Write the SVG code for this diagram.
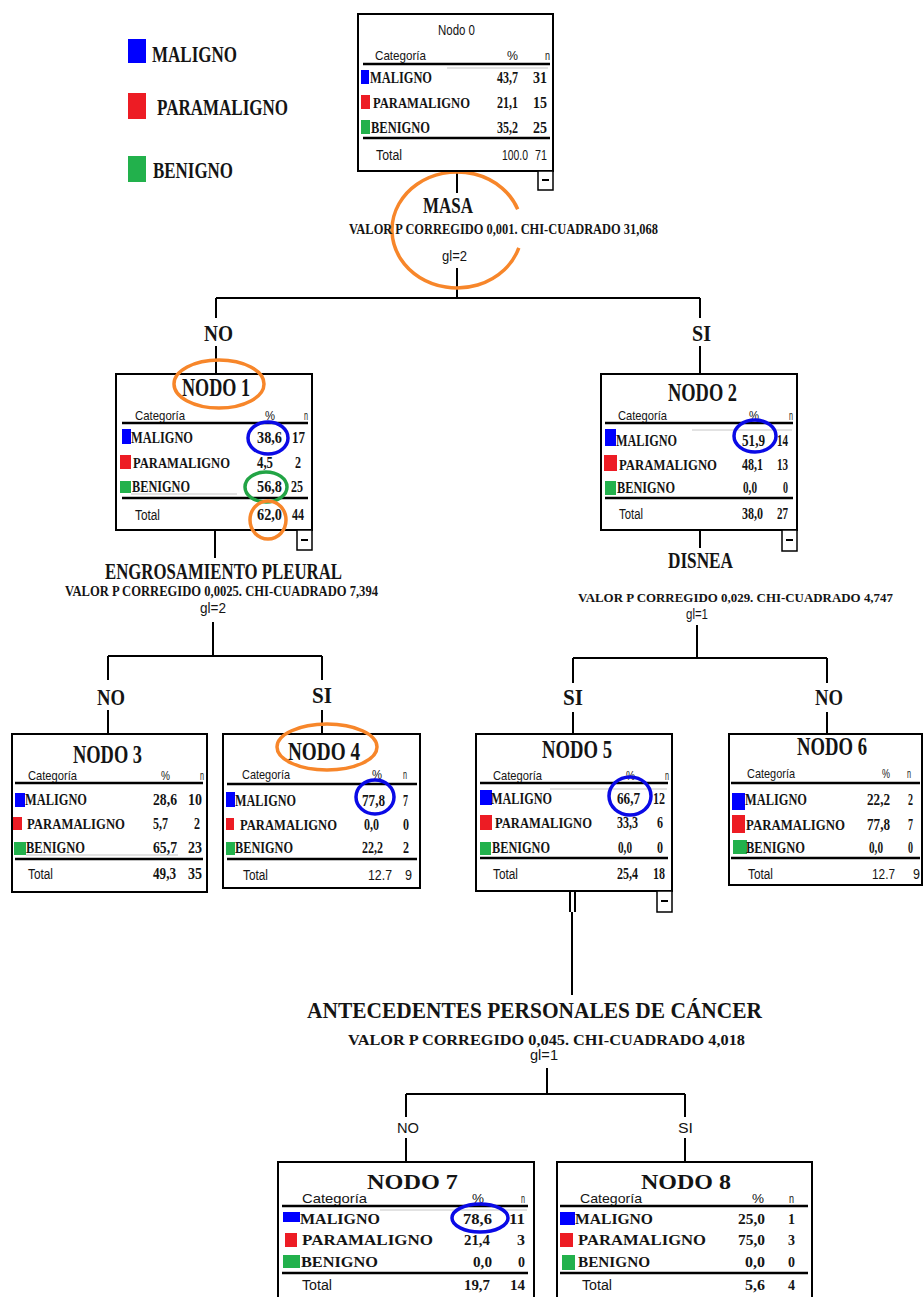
<svg xmlns="http://www.w3.org/2000/svg" width="923" height="1297" viewBox="0 0 923 1297">
<style>
.b{font-family:"Liberation Serif",serif;font-weight:bold;fill:#141414}
.s{font-family:"Liberation Sans",sans-serif;fill:#141414}
.r{font-size:17px}.r2{font-size:15px}.r7{font-size:15px}
.h{font-size:26px}.h7{font-size:21px}
.c{font-size:13px}.t{font-size:14px}
.sp{font-size:24px}.v{font-size:15px}
.lg{font-size:24px}
.ln{stroke:#000;stroke-width:2;fill:none}
.box{fill:#fff;stroke:#000;stroke-width:2}
.sep{stroke:#000;stroke-width:2.5}
.gr{stroke:#e2e2e2;stroke-width:2}
.mal{fill:#0000ff}.par{fill:#ed1c24}.ben{fill:#22b14c}
.oe{fill:none;stroke:#f7862a;stroke-width:3.5}
.be{fill:none;stroke:#0a0ae6;stroke-width:3.5}
.ge{fill:none;stroke:#22a445;stroke-width:3.5}
.mb{fill:#fff;stroke:#000;stroke-width:1.5}
</style>
<rect width="923" height="1297" fill="#fff"/>

<g id="legend">
<rect x="128" y="39" width="18" height="24" class="mal"/>
<text class="b lg" x="152" y="62" textLength="85" lengthAdjust="spacingAndGlyphs">MALIGNO</text>
<rect x="128" y="93" width="18" height="26" class="par"/>
<text class="b lg" x="157" y="115" textLength="131" lengthAdjust="spacingAndGlyphs">PARAMALIGNO</text>
<rect x="128" y="156" width="18" height="26" class="ben"/>
<text class="b lg" x="153" y="178" textLength="80" lengthAdjust="spacingAndGlyphs">BENIGNO</text>
</g>

<g id="connectors">
<path class="ln" d="M457 171V193M457 268V298M216 298H700M216 298V318M216 346V374M700 298V318M700 346V374"/>
<path class="ln" d="M215 530V558M213 622V656M108 656H322M108 656V680M108 710V734M322 656V680M322 710V734"/>
<path class="ln" d="M700 530V548M697 625V658M573 658H827M573 658V683M573 712V734M827 658V683M827 712V734"/>
<path class="ln" d="M570 891V912M575 891V912M572 912V995M547 1068V1094M406 1094H685M406 1094V1117M406 1138V1162M685 1094V1117M685 1138V1162"/>
</g>

<g id="split0">
<path class="oe" d="M518.8 247.9A65 58 0 1 1 517.7 209.2"/>
<text class="b" style="font-size:23px" x="423" y="213" textLength="50" lengthAdjust="spacingAndGlyphs">MASA</text>
<text class="b v" x="349" y="234" textLength="309" lengthAdjust="spacingAndGlyphs">VALOR P CORREGIDO 0,001. CHI-CUADRADO 31,068</text>
<text class="s t" x="442" y="261" textLength="25" lengthAdjust="spacingAndGlyphs">gl=2</text>
<text class="b sp" x="204" y="341" textLength="29" lengthAdjust="spacingAndGlyphs">NO</text>
<text class="b sp" x="692" y="341" textLength="19" lengthAdjust="spacingAndGlyphs">SI</text>
</g>

<g id="node0">
<rect x="358" y="14" width="195" height="157" class="box"/>
<text class="s t" x="438" y="35" textLength="37" lengthAdjust="spacingAndGlyphs">Nodo 0</text>
<text class="s c" x="375" y="60" textLength="51" lengthAdjust="spacingAndGlyphs">Categoría</text>
<text class="s c" x="507" y="60" textLength="11" lengthAdjust="spacingAndGlyphs">%</text>
<text class="s c" x="545" y="60" textLength="5" lengthAdjust="spacingAndGlyphs">n</text>
<line class="sep" x1="363" y1="64" x2="550" y2="64"/>
<line class="gr" x1="447" y1="68" x2="548" y2="68"/>
<rect x="361" y="70" width="8" height="14" class="mal"/>
<text class="b r" x="370" y="83" textLength="62" lengthAdjust="spacingAndGlyphs">MALIGNO</text>
<text class="b r" x="497" y="83" textLength="21" lengthAdjust="spacingAndGlyphs">43,7</text>
<text class="b r" x="533" y="83" textLength="14" lengthAdjust="spacingAndGlyphs">31</text>
<rect x="361" y="95" width="9" height="14" class="par"/>
<text class="b r2" x="373" y="108" textLength="97" lengthAdjust="spacingAndGlyphs">PARAMALIGNO</text>
<text class="b r" x="497" y="108" textLength="21" lengthAdjust="spacingAndGlyphs">21,1</text>
<text class="b r" x="533" y="108" textLength="14" lengthAdjust="spacingAndGlyphs">15</text>
<rect x="361" y="120" width="9" height="14" class="ben"/>
<text class="b r" x="371" y="133" textLength="59" lengthAdjust="spacingAndGlyphs">BENIGNO</text>
<text class="b r" x="497" y="133" textLength="21" lengthAdjust="spacingAndGlyphs">35,2</text>
<text class="b r" x="533" y="133" textLength="14" lengthAdjust="spacingAndGlyphs">25</text>
<line class="sep" x1="363" y1="138" x2="550" y2="138"/>
<text class="s t" x="376" y="160" textLength="26" lengthAdjust="spacingAndGlyphs">Total</text>
<text class="s t" x="502" y="160" textLength="26" lengthAdjust="spacingAndGlyphs">100.0</text>
<text class="s t" x="535" y="160" textLength="12" lengthAdjust="spacingAndGlyphs">71</text>
<rect x="538" y="171" width="15" height="19" class="mb"/>
<line class="ln" x1="542" y1="180" x2="549" y2="180"/>
</g>

<g id="node1">
<rect x="116" y="374" width="196" height="156" class="box"/>
<text class="b h" x="182" y="396" textLength="68" lengthAdjust="spacingAndGlyphs">NODO 1</text>
<text class="s c" x="135" y="420" textLength="50" lengthAdjust="spacingAndGlyphs">Categoría</text>
<text class="s c" x="265" y="420" textLength="10" lengthAdjust="spacingAndGlyphs">%</text>
<text class="s c" x="304" y="420" textLength="4" lengthAdjust="spacingAndGlyphs">n</text>
<line class="sep" x1="122" y1="423" x2="308" y2="423"/>
<rect x="122" y="429" width="9" height="15" class="mal"/>
<text class="b r" x="131" y="443" textLength="62" lengthAdjust="spacingAndGlyphs">MALIGNO</text>
<text class="b r" x="257" y="443" textLength="25" lengthAdjust="spacingAndGlyphs">38,6</text>
<text class="b r" x="292" y="443" textLength="13" lengthAdjust="spacingAndGlyphs">17</text>
<rect x="120" y="455" width="11" height="14" class="par"/>
<text class="b r2" x="133" y="468" textLength="97" lengthAdjust="spacingAndGlyphs">PARAMALIGNO</text>
<text class="b r" x="257" y="468" textLength="16" lengthAdjust="spacingAndGlyphs">4,5</text>
<text class="b r" x="295" y="468" textLength="6" lengthAdjust="spacingAndGlyphs">2</text>
<line class="gr" x1="131" y1="494" x2="237" y2="494"/>
<rect x="120" y="481" width="11" height="12" class="ben"/>
<text class="b r" x="132" y="492" textLength="58" lengthAdjust="spacingAndGlyphs">BENIGNO</text>
<text class="b r" x="257" y="492" textLength="25" lengthAdjust="spacingAndGlyphs">56,8</text>
<text class="b r" x="291" y="492" textLength="12" lengthAdjust="spacingAndGlyphs">25</text>
<line class="sep" x1="122" y1="498" x2="308" y2="498"/>
<text class="s t" x="135" y="520" textLength="25" lengthAdjust="spacingAndGlyphs">Total</text>
<text class="b r" x="257" y="520" textLength="25" lengthAdjust="spacingAndGlyphs">62,0</text>
<text class="b r" x="292" y="520" textLength="12" lengthAdjust="spacingAndGlyphs">44</text>
<rect x="297" y="530" width="15" height="20" class="mb"/>
<line class="ln" x1="301" y1="540" x2="308" y2="540"/>
<ellipse class="oe" cx="219" cy="384" rx="45" ry="24"/>
<ellipse class="be" cx="268" cy="438" rx="20" ry="16"/>
<ellipse class="ge" cx="266" cy="487" rx="21" ry="15"/>
<ellipse class="oe" cx="268" cy="520" rx="18" ry="19"/>
</g>

<g id="split1">
<text class="b" style="font-size:23px" x="105" y="579" textLength="237" lengthAdjust="spacingAndGlyphs">ENGROSAMIENTO PLEURAL</text>
<text class="b v" x="65" y="596" textLength="313" lengthAdjust="spacingAndGlyphs">VALOR P CORREGIDO 0,0025. CHI-CUADRADO 7,394</text>
<text class="s t" x="200" y="613" textLength="26" lengthAdjust="spacingAndGlyphs">gl=2</text>
<text class="b sp" x="97" y="705" textLength="28" lengthAdjust="spacingAndGlyphs">NO</text>
<text class="b sp" x="312" y="703" textLength="20" lengthAdjust="spacingAndGlyphs">SI</text>
</g>

<g id="node2">
<rect x="601" y="374" width="196" height="156" class="box"/>
<text class="b h" x="668" y="401" textLength="69" lengthAdjust="spacingAndGlyphs">NODO 2</text>
<text class="s c" x="618" y="420" textLength="49" lengthAdjust="spacingAndGlyphs">Categoría</text>
<text class="s c" x="749" y="420" textLength="10" lengthAdjust="spacingAndGlyphs">%</text>
<text class="s c" x="789" y="420" textLength="4" lengthAdjust="spacingAndGlyphs">n</text>
<line class="sep" x1="605" y1="423" x2="793" y2="423"/>
<line class="gr" x1="692" y1="430" x2="792" y2="430"/>
<rect x="605" y="429" width="11" height="17" class="mal"/>
<text class="b r" x="616" y="446" textLength="61" lengthAdjust="spacingAndGlyphs">MALIGNO</text>
<text class="b r" x="742" y="446" textLength="23" lengthAdjust="spacingAndGlyphs">51,9</text>
<text class="b r" x="777" y="446" textLength="11" lengthAdjust="spacingAndGlyphs">14</text>
<rect x="604" y="455" width="13" height="16" class="par"/>
<text class="b r2" x="619" y="470" textLength="98" lengthAdjust="spacingAndGlyphs">PARAMALIGNO</text>
<text class="b r" x="742" y="470" textLength="21" lengthAdjust="spacingAndGlyphs">48,1</text>
<text class="b r" x="777" y="470" textLength="11" lengthAdjust="spacingAndGlyphs">13</text>
<rect x="605" y="481" width="11" height="14" class="ben"/>
<text class="b r" x="617" y="493" textLength="58" lengthAdjust="spacingAndGlyphs">BENIGNO</text>
<text class="b r" x="743" y="493" textLength="14" lengthAdjust="spacingAndGlyphs">0,0</text>
<text class="b r" x="783" y="493" textLength="5" lengthAdjust="spacingAndGlyphs">0</text>
<line class="sep" x1="605" y1="498" x2="793" y2="498"/>
<text class="s t" x="619" y="519" textLength="24" lengthAdjust="spacingAndGlyphs">Total</text>
<text class="b r" x="742" y="519" textLength="21" lengthAdjust="spacingAndGlyphs">38,0</text>
<text class="b r" x="777" y="519" textLength="11" lengthAdjust="spacingAndGlyphs">27</text>
<rect x="782" y="530" width="15" height="21" class="mb"/>
<line class="ln" x1="786" y1="540" x2="793" y2="540"/>
<ellipse class="be" cx="755" cy="436" rx="21" ry="16"/>
</g>

<g id="split2">
<text class="b" style="font-size:23px" x="668" y="568" textLength="65" lengthAdjust="spacingAndGlyphs">DISNEA</text>
<text class="b" style="font-size:13.5px" x="578" y="602" textLength="315" lengthAdjust="spacingAndGlyphs">VALOR P CORREGIDO 0,029. CHI-CUADRADO 4,747</text>
<text class="s t" x="686" y="619" textLength="22" lengthAdjust="spacingAndGlyphs">gl=1</text>
<text class="b sp" x="563" y="705" textLength="20" lengthAdjust="spacingAndGlyphs">SI</text>
<text class="b sp" x="815" y="705" textLength="28" lengthAdjust="spacingAndGlyphs">NO</text>
</g>

<g id="node3">
<rect x="12" y="734" width="195" height="158" class="box"/>
<text class="b h" x="73" y="763" textLength="69" lengthAdjust="spacingAndGlyphs">NODO 3</text>
<text class="s c" x="28" y="780" textLength="49" lengthAdjust="spacingAndGlyphs">Categoría</text>
<text class="s c" x="161" y="780" textLength="9" lengthAdjust="spacingAndGlyphs">%</text>
<text class="s c" x="200" y="780" textLength="4" lengthAdjust="spacingAndGlyphs">n</text>
<line class="sep" x1="15" y1="783" x2="203" y2="783"/>
<rect x="15" y="793" width="10" height="14" class="mal"/>
<text class="b r" x="25" y="805" textLength="62" lengthAdjust="spacingAndGlyphs">MALIGNO</text>
<text class="b r" x="153" y="805" textLength="24" lengthAdjust="spacingAndGlyphs">28,6</text>
<text class="b r" x="188" y="805" textLength="14" lengthAdjust="spacingAndGlyphs">10</text>
<rect x="13" y="817" width="9" height="13" class="par"/>
<text class="b r2" x="27" y="829" textLength="98" lengthAdjust="spacingAndGlyphs">PARAMALIGNO</text>
<text class="b r" x="153" y="829" textLength="15" lengthAdjust="spacingAndGlyphs">5,7</text>
<text class="b r" x="194" y="829" textLength="6" lengthAdjust="spacingAndGlyphs">2</text>
<line class="gr" x1="26" y1="855" x2="178" y2="855"/>
<rect x="14" y="842" width="12" height="13" class="ben"/>
<text class="b r" x="26" y="853" textLength="59" lengthAdjust="spacingAndGlyphs">BENIGNO</text>
<text class="b r" x="153" y="853" textLength="24" lengthAdjust="spacingAndGlyphs">65,7</text>
<text class="b r" x="188" y="853" textLength="14" lengthAdjust="spacingAndGlyphs">23</text>
<line class="sep" x1="15" y1="859" x2="203" y2="859"/>
<text class="s t" x="28" y="879" textLength="25" lengthAdjust="spacingAndGlyphs">Total</text>
<text class="b r" x="153" y="879" textLength="23" lengthAdjust="spacingAndGlyphs">49,3</text>
<text class="b r" x="188" y="879" textLength="14" lengthAdjust="spacingAndGlyphs">35</text>
</g>

<g id="node4">
<rect x="223" y="734" width="197" height="154" class="box"/>
<text class="b h" x="288" y="760" textLength="72" lengthAdjust="spacingAndGlyphs">NODO 4</text>
<text class="s c" x="242" y="779" textLength="48" lengthAdjust="spacingAndGlyphs">Categoría</text>
<text class="s c" x="372" y="779" textLength="10" lengthAdjust="spacingAndGlyphs">%</text>
<text class="s c" x="403" y="779" textLength="4" lengthAdjust="spacingAndGlyphs">n</text>
<line class="sep" x1="227" y1="784" x2="417" y2="784"/>
<rect x="226" y="792" width="9" height="15" class="mal"/>
<text class="b r" x="235" y="806" textLength="61" lengthAdjust="spacingAndGlyphs">MALIGNO</text>
<text class="b r" x="362" y="806" textLength="23" lengthAdjust="spacingAndGlyphs">77,8</text>
<text class="b r" x="403" y="806" textLength="5" lengthAdjust="spacingAndGlyphs">7</text>
<rect x="226" y="818" width="8" height="12" class="par"/>
<text class="b r2" x="240" y="830" textLength="97" lengthAdjust="spacingAndGlyphs">PARAMALIGNO</text>
<text class="b r" x="364" y="830" textLength="15" lengthAdjust="spacingAndGlyphs">0,0</text>
<text class="b r" x="403" y="830" textLength="6" lengthAdjust="spacingAndGlyphs">0</text>
<rect x="226" y="842" width="9" height="13" class="ben"/>
<text class="b r" x="235" y="853" textLength="58" lengthAdjust="spacingAndGlyphs">BENIGNO</text>
<text class="b r" x="362" y="853" textLength="21" lengthAdjust="spacingAndGlyphs">22,2</text>
<text class="b r" x="403" y="853" textLength="6" lengthAdjust="spacingAndGlyphs">2</text>
<line class="sep" x1="227" y1="859" x2="417" y2="859"/>
<text class="s t" x="243" y="880" textLength="25" lengthAdjust="spacingAndGlyphs">Total</text>
<text class="s t" x="368" y="880" textLength="24" lengthAdjust="spacingAndGlyphs">12.7</text>
<text class="s t" x="405" y="880" textLength="7" lengthAdjust="spacingAndGlyphs">9</text>
<ellipse class="oe" cx="327" cy="747" rx="50" ry="23"/>
<ellipse class="be" cx="375" cy="797" rx="19" ry="17"/>
</g>

<g id="node5">
<rect x="476" y="734" width="196" height="157" class="box"/>
<text class="b h" x="542" y="758" textLength="70" lengthAdjust="spacingAndGlyphs">NODO 5</text>
<text class="s c" x="493" y="780" textLength="49" lengthAdjust="spacingAndGlyphs">Categoría</text>
<text class="s c" x="626" y="780" textLength="9" lengthAdjust="spacingAndGlyphs">%</text>
<text class="s c" x="665" y="780" textLength="4" lengthAdjust="spacingAndGlyphs">n</text>
<line class="sep" x1="480" y1="783" x2="668" y2="783"/>
<line class="gr" x1="550" y1="789" x2="667" y2="789"/>
<rect x="480" y="790" width="12" height="15" class="mal"/>
<text class="b r" x="491" y="804" textLength="61" lengthAdjust="spacingAndGlyphs">MALIGNO</text>
<text class="b r" x="617" y="804" textLength="23" lengthAdjust="spacingAndGlyphs">66,7</text>
<text class="b r" x="653" y="804" textLength="12" lengthAdjust="spacingAndGlyphs">12</text>
<rect x="480" y="815" width="12" height="15" class="par"/>
<text class="b r2" x="495" y="828" textLength="97" lengthAdjust="spacingAndGlyphs">PARAMALIGNO</text>
<text class="b r" x="617" y="828" textLength="21" lengthAdjust="spacingAndGlyphs">33,3</text>
<text class="b r" x="657" y="828" textLength="6" lengthAdjust="spacingAndGlyphs">6</text>
<rect x="480" y="842" width="11" height="13" class="ben"/>
<text class="b r" x="492" y="853" textLength="58" lengthAdjust="spacingAndGlyphs">BENIGNO</text>
<text class="b r" x="618" y="853" textLength="14" lengthAdjust="spacingAndGlyphs">0,0</text>
<text class="b r" x="657" y="853" textLength="6" lengthAdjust="spacingAndGlyphs">0</text>
<line class="sep" x1="480" y1="858" x2="668" y2="858"/>
<text class="s t" x="493" y="879" textLength="25" lengthAdjust="spacingAndGlyphs">Total</text>
<text class="b r" x="617" y="879" textLength="21" lengthAdjust="spacingAndGlyphs">25,4</text>
<text class="b r" x="653" y="879" textLength="12" lengthAdjust="spacingAndGlyphs">18</text>
<rect x="657" y="891" width="15" height="21" class="mb"/>
<line class="ln" x1="661" y1="901" x2="668" y2="901"/>
<ellipse class="be" cx="630" cy="796" rx="21" ry="19"/>
</g>

<g id="node6">
<rect x="729" y="734" width="193" height="151" class="box"/>
<text class="b h" x="797" y="755" textLength="70" lengthAdjust="spacingAndGlyphs">NODO 6</text>
<text class="s c" x="747" y="778" textLength="48" lengthAdjust="spacingAndGlyphs">Categoría</text>
<text class="s c" x="882" y="778" textLength="8" lengthAdjust="spacingAndGlyphs">%</text>
<text class="s c" x="907" y="778" textLength="4" lengthAdjust="spacingAndGlyphs">n</text>
<line class="sep" x1="731" y1="783" x2="920" y2="783"/>
<rect x="732" y="793" width="13" height="17" class="mal"/>
<text class="b r" x="745" y="805" textLength="62" lengthAdjust="spacingAndGlyphs">MALIGNO</text>
<text class="b r" x="867" y="805" textLength="23" lengthAdjust="spacingAndGlyphs">22,2</text>
<text class="b r" x="908" y="805" textLength="5" lengthAdjust="spacingAndGlyphs">2</text>
<rect x="732" y="815" width="13" height="18" class="par"/>
<text class="b r2" x="746" y="830" textLength="99" lengthAdjust="spacingAndGlyphs">PARAMALIGNO</text>
<text class="b r" x="867" y="830" textLength="23" lengthAdjust="spacingAndGlyphs">77,8</text>
<text class="b r" x="908" y="830" textLength="5" lengthAdjust="spacingAndGlyphs">7</text>
<rect x="733" y="840" width="14" height="14" class="ben"/>
<text class="b r" x="746" y="853" textLength="59" lengthAdjust="spacingAndGlyphs">BENIGNO</text>
<text class="b r" x="869" y="853" textLength="14" lengthAdjust="spacingAndGlyphs">0,0</text>
<text class="b r" x="908" y="853" textLength="5" lengthAdjust="spacingAndGlyphs">0</text>
<line class="sep" x1="731" y1="858" x2="920" y2="858"/>
<text class="s t" x="748" y="879" textLength="25" lengthAdjust="spacingAndGlyphs">Total</text>
<text class="s t" x="872" y="879" textLength="23" lengthAdjust="spacingAndGlyphs">12.7</text>
<text class="s t" x="913" y="879" textLength="7" lengthAdjust="spacingAndGlyphs">9</text>
</g>

<g id="split5">
<text class="b" style="font-size:23px" x="307" y="1018" textLength="455" lengthAdjust="spacingAndGlyphs">ANTECEDENTES PERSONALES DE CÁNCER</text>
<text class="b v" x="348" y="1045" textLength="397" lengthAdjust="spacingAndGlyphs">VALOR P CORREGIDO 0,045. CHI-CUADRADO 4,018</text>
<text class="s t" x="530" y="1060" textLength="28" lengthAdjust="spacingAndGlyphs">gl=1</text>
<text class="s t" x="397" y="1133" textLength="22" lengthAdjust="spacingAndGlyphs">NO</text>
<text class="s t" x="678" y="1133" textLength="15" lengthAdjust="spacingAndGlyphs">SI</text>
</g>

<g id="node7">
<rect x="278" y="1162" width="256" height="145" class="box"/>
<text class="b h7" x="367" y="1189" textLength="91" lengthAdjust="spacingAndGlyphs">NODO 7</text>
<text class="s c" x="302" y="1203" textLength="65" lengthAdjust="spacingAndGlyphs">Categoría</text>
<text class="s c" x="472" y="1203" textLength="12" lengthAdjust="spacingAndGlyphs">%</text>
<text class="s c" x="521" y="1203" textLength="4" lengthAdjust="spacingAndGlyphs">n</text>
<line class="sep" x1="282" y1="1206" x2="528" y2="1206"/>
<line class="gr" x1="380" y1="1210" x2="527" y2="1210"/>
<rect x="283" y="1212" width="17" height="10" class="mal"/>
<text class="b r7" x="300" y="1224" textLength="80" lengthAdjust="spacingAndGlyphs">MALIGNO</text>
<text class="b r7" x="463" y="1224" textLength="29" lengthAdjust="spacingAndGlyphs">78,6</text>
<text class="b r7" x="509" y="1224" textLength="16" lengthAdjust="spacingAndGlyphs">11</text>
<rect x="285" y="1233" width="12" height="14" class="par"/>
<text class="b r7" x="302" y="1245" textLength="131" lengthAdjust="spacingAndGlyphs">PARAMALIGNO</text>
<text class="b r7" x="464" y="1245" textLength="26" lengthAdjust="spacingAndGlyphs">21,4</text>
<text class="b r7" x="517" y="1245" textLength="8" lengthAdjust="spacingAndGlyphs">3</text>
<rect x="283" y="1255" width="17" height="13" class="ben"/>
<text class="b r7" x="301" y="1267" textLength="77" lengthAdjust="spacingAndGlyphs">BENIGNO</text>
<text class="b r7" x="473" y="1267" textLength="19" lengthAdjust="spacingAndGlyphs">0,0</text>
<text class="b r7" x="518" y="1267" textLength="7" lengthAdjust="spacingAndGlyphs">0</text>
<line class="sep" x1="282" y1="1273" x2="528" y2="1273"/>
<text class="s t" x="302" y="1290" textLength="30" lengthAdjust="spacingAndGlyphs">Total</text>
<text class="b r7" x="464" y="1290" textLength="26" lengthAdjust="spacingAndGlyphs">19,7</text>
<text class="b r7" x="510" y="1290" textLength="15" lengthAdjust="spacingAndGlyphs">14</text>
<ellipse class="be" cx="480" cy="1218" rx="28" ry="14"/>
</g>

<g id="node8">
<rect x="557" y="1162" width="255" height="145" class="box"/>
<text class="b h7" x="641" y="1189" textLength="90" lengthAdjust="spacingAndGlyphs">NODO 8</text>
<text class="s c" x="580" y="1203" textLength="62" lengthAdjust="spacingAndGlyphs">Categoría</text>
<text class="s c" x="752" y="1203" textLength="12" lengthAdjust="spacingAndGlyphs">%</text>
<text class="s c" x="789" y="1203" textLength="5" lengthAdjust="spacingAndGlyphs">n</text>
<line class="sep" x1="560" y1="1206" x2="808" y2="1206"/>
<rect x="560" y="1212" width="15" height="13" class="mal"/>
<text class="b r7" x="575" y="1224" textLength="78" lengthAdjust="spacingAndGlyphs">MALIGNO</text>
<text class="b r7" x="738" y="1224" textLength="27" lengthAdjust="spacingAndGlyphs">25,0</text>
<text class="b r7" x="788" y="1224" textLength="7" lengthAdjust="spacingAndGlyphs">1</text>
<rect x="560" y="1233" width="13" height="14" class="par"/>
<text class="b r7" x="578" y="1245" textLength="128" lengthAdjust="spacingAndGlyphs">PARAMALIGNO</text>
<text class="b r7" x="738" y="1245" textLength="27" lengthAdjust="spacingAndGlyphs">75,0</text>
<text class="b r7" x="788" y="1245" textLength="7" lengthAdjust="spacingAndGlyphs">3</text>
<rect x="562" y="1255" width="13" height="15" class="ben"/>
<text class="b r7" x="578" y="1267" textLength="72" lengthAdjust="spacingAndGlyphs">BENIGNO</text>
<text class="b r7" x="745" y="1267" textLength="20" lengthAdjust="spacingAndGlyphs">0,0</text>
<text class="b r7" x="788" y="1267" textLength="7" lengthAdjust="spacingAndGlyphs">0</text>
<line class="sep" x1="560" y1="1273" x2="808" y2="1273"/>
<text class="s t" x="582" y="1290" textLength="30" lengthAdjust="spacingAndGlyphs">Total</text>
<text class="b r7" x="745" y="1290" textLength="20" lengthAdjust="spacingAndGlyphs">5,6</text>
<text class="b r7" x="788" y="1290" textLength="7" lengthAdjust="spacingAndGlyphs">4</text>
</g>
</svg>
